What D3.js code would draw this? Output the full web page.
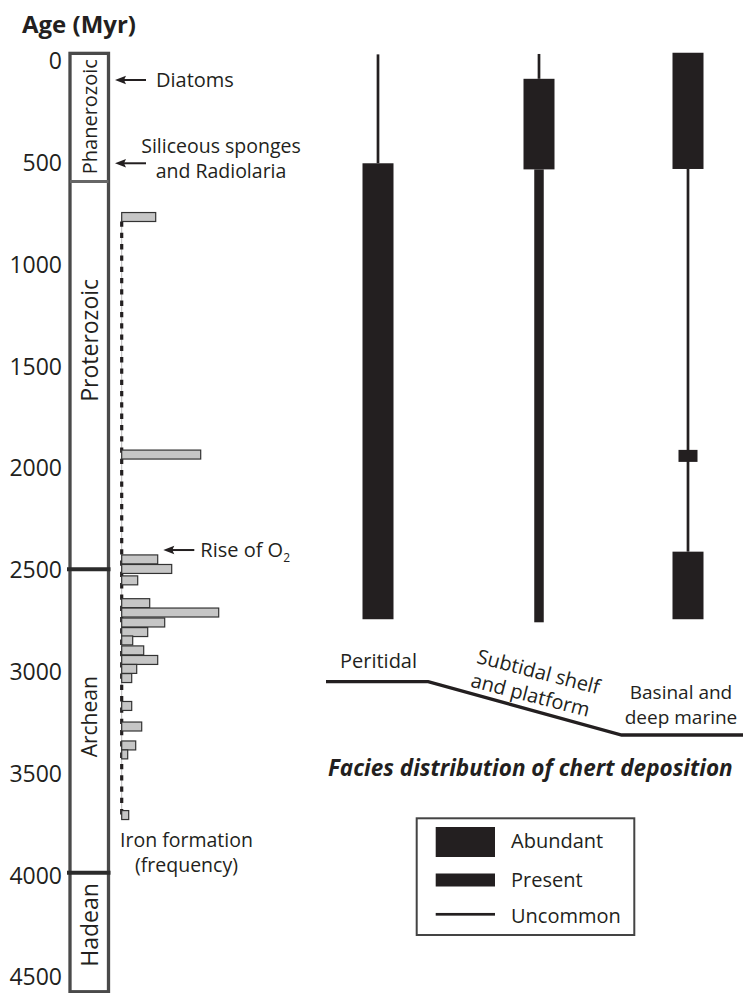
<!DOCTYPE html>
<html>
<head>
<meta charset="utf-8">
<script src="https://cdn.jsdelivr.net/npm/d3@7"></script>
<style>
  body { margin: 0; background: #fff; }
  text { font-family: "Open Sans", sans-serif; fill: #231f20; }
</style>
</head>
<body>
<div class="chart"></div>
<script>
(function() {

    /* data */
    var ageTicks = [0, 500, 1000, 1500, 2000, 2500, 3000, 3500, 4000, 4500];

    var eonNames = ["Phanerozoic", "Proterozoic", "Archean", "Hadean"];
    var eonTop = [-40, 590, 2495, 3985];
    var eonBottom = [590, 2495, 3985, 4570];
    var eonLabelAge = [271, 1370, 3219, 4242];

    // iron formation frequency (relative) per age bin
    var ironAge = [764, 1931, 2446, 2493, 2549, 2661, 2707, 2756, 2803, 2844, 2893, 2940, 2984, 3029, 3166, 3267, 3360, 3404, 3702];
    var ironFreq = [34, 79, 36, 50, 16, 28, 97, 43, 26, 11, 22, 36, 15, 10, 10, 20, 14, 6, 7];

    var eventNames = ["Diatoms", "Siliceous sponges\nand Radiolaria", "Rise of O"];
    var eventAge = [91, 500, 2400];

    var faciesNames = ["Peritidal", "Subtidal shelf\nand platform", "Basinal and\ndeep marine"];
    var segFacies = [0, 0, 1, 1, 1, 2, 2, 2, 2];
    var segLevel = ["Uncommon", "Abundant", "Uncommon", "Abundant", "Present", "Abundant", "Uncommon", "Present", "Abundant"];
    var segFrom = [-35, 500, -37, 85, 530, -43, 528, 1908, 2408];
    var segTo = [500, 2740, 85, 530, 2755, 528, 2408, 1967, 2740];

    var levels = ["Abundant", "Present", "Uncommon"];

    // shelf profile: fraction along the panel, relative depth
    var profFrac = [0, 0.245, 0.709, 1];
    var profDepth = [0, 0, 1, 1];

    var ink = "#231f20";

    var svg = d3.select(".chart").append("svg")
        .attr("width", 743)
        .attr("height", 993);

    var y = d3.scaleLinear()
        .domain([0, 4500])
        .range([61.5, 977.5]);

    /* age axis */
    svg.append("text")
        .attr("x", 22)
        .attr("y", 33)
        .style("font-weight", "bold")
        .style("font-size", "24px")
        .text("Age (Myr)");

    var yAxis = d3.axisLeft(y).tickValues(ageTicks).tickSize(0).tickPadding(0).tickFormat(d3.format("d"));
    var ax = svg.append("g")
        .attr("transform", "translate(62,0)")
        .call(yAxis);
    ax.select(".domain").remove();
    ax.selectAll("text")
        .attr("fill", ink)
        .style("font-family", "'Open Sans', sans-serif")
        .style("font-size", "23px");

    /* eon column */
    var eonX0 = 70, eonX1 = 108.5;
    svg.append("rect")
        .attr("x", eonX0)
        .attr("y", y(eonTop[0]))
        .attr("width", eonX1 - eonX0)
        .attr("height", y(eonBottom[3]) - y(eonTop[0]))
        .attr("fill", "none")
        .attr("stroke", "#4a4a4a")
        .attr("stroke-width", 3.3);

    svg.selectAll(".eon-line")
        .data(eonTop.slice(1))
        .enter().append("line")
        .attr("class", "eon-line")
        .attr("x1", function(d, i) { return i == 0 ? eonX0 : eonX0 - 3; })
        .attr("x2", function(d, i) { return i == 0 ? eonX1 : eonX1 + 2; })
        .attr("y1", function(d) { return y(d); })
        .attr("y2", function(d) { return y(d); })
        .attr("stroke", function(d, i) { return i == 0 ? "#666" : "#2b2b2b"; })
        .attr("stroke-width", function(d, i) { return i == 0 ? 3 : 4; });

    svg.selectAll(".eon-label")
        .data(eonNames)
        .enter().append("text")
        .attr("class", "eon-label")
        .attr("transform", function(d, i) { return "translate(" + 89.5 + "," + y(eonLabelAge[i]) + ") rotate(-90)"; })
        .attr("text-anchor", "middle")
        .attr("dy", "0.35em")
        .style("font-size", function(d, i) { return i == 0 ? "20px" : (i == 2 ? "21px" : "23px"); })
        .text(function(d) { return d; });

    /* iron formation histogram */
    var x = d3.scaleLinear().domain([0, 100]).range([121.7, 221.7]);
    var binHalf = 22;

    svg.append("line")
        .attr("x1", x(0)).attr("x2", x(0))
        .attr("y1", y(ironAge[0])).attr("y2", y(ironAge[ironAge.length - 1]))
        .attr("stroke", "#bbb")
        .attr("stroke-width", 1);
    svg.append("line")
        .attr("x1", x(0)).attr("x2", x(0))
        .attr("y1", y(ironAge[0] + binHalf)).attr("y2", y(ironAge[ironAge.length - 1]))
        .attr("stroke", ink)
        .attr("stroke-width", 3.2)
        .attr("stroke-dasharray", "5.3,6");

    svg.selectAll(".iron")
        .data(ironAge)
        .enter().append("rect")
        .attr("class", "iron")
        .attr("x", x(0))
        .attr("y", function(d) { return y(d - binHalf); })
        .attr("width", function(d, i) { return x(ironFreq[i]) - x(0); })
        .attr("height", function(d) { return y(d + binHalf) - y(d - binHalf); })
        .attr("fill", "#c6c6c6")
        .attr("stroke", "#333")
        .attr("stroke-width", 1.2);

    var ironLab = svg.append("text")
        .attr("x", 186.5)
        .attr("y", 847)
        .attr("text-anchor", "middle")
        .style("font-size", "19.5px");
    ironLab.append("tspan").text("Iron formation");
    ironLab.append("tspan").attr("x", 186.5).attr("dy", 25).text("(frequency)");

    /* event arrows */
    var arrowX = [115, 115, 163.3];
    var arrowLen = 31;
    var ev = svg.selectAll(".event")
        .data(eventNames)
        .enter().append("g")
        .attr("class", "event")
        .attr("transform", function(d, i) { return "translate(" + arrowX[i] + "," + y(eventAge[i]) + ")"; });

    ev.append("line")
        .attr("x1", 6).attr("x2", arrowLen)
        .attr("stroke", ink)
        .attr("stroke-width", 2);
    ev.append("path")
        .attr("d", "M0,0L11,-4.2L9,0L11,4.2Z")
        .attr("fill", ink);

    ev.each(function(d, i) {
        var g = d3.select(this);
        var lines = d.split("\n");
        if (lines.length == 1) {
            var t = g.append("text")
                .attr("x", arrowLen + 10)
                .attr("y", 7.3)
                .style("font-size", "20px")
                .text(d);
            if (d == "Rise of O") {
                t.attr("x", arrowLen + 6);
                t.append("tspan")
                    .attr("dy", 5)
                    .style("font-size", "12px")
                    .text("2");
            }
        } else {
            // two stacked lines, centred over the arrow
            lines.forEach(function(s, k) {
                g.append("text")
                    .attr("x", 106)
                    .attr("y", k == 0 ? -10.5 : 14.5)
                    .attr("text-anchor", "middle")
                    .style("font-size", "19.5px")
                    .text(s);
            });
        }
    });

    /* facies columns */
    var colX = d3.scaleOrdinal().domain([0, 1, 2]).range([378, 539, 688]);
    var levelWidth = { "Abundant": 31, "Present": 9.5, "Uncommon": 2.7 };
    var presentWidth = [9.5, 9.5, 19];
    var levelOrder = { "Uncommon": 0, "Present": 1, "Abundant": 2 };

    var segs = segFacies.map(function(f, i) {
        return { facies: f, level: segLevel[i], from: segFrom[i], to: segTo[i] };
    }).sort(function(a, b) { return levelOrder[a.level] - levelOrder[b.level]; });

    function segW(d) {
        return d.level == "Present" ? presentWidth[d.facies] : levelWidth[d.level];
    }

    svg.selectAll(".seg")
        .data(segs)
        .enter().append("rect")
        .attr("class", "seg")
        .attr("x", function(d) { return colX(d.facies) - segW(d) / 2; })
        .attr("y", function(d) { return y(d.from); })
        .attr("width", segW)
        .attr("height", function(d) { return y(d.to) - y(d.from); })
        .attr("fill", ink);

    /* shelf profile */
    var px = d3.scaleLinear().domain([0, 1]).range([326, 743]);
    var pz = d3.scaleLinear().domain([0, 1]).range([681.7, 735]);
    var profile = d3.line()
        .x(function(d, i) { return px(d); })
        .y(function(d, i) { return pz(profDepth[i]); });

    svg.append("path")
        .attr("d", profile(profFrac))
        .attr("fill", "none")
        .attr("stroke", ink)
        .attr("stroke-width", 3.3);

    svg.append("text")
        .attr("x", 378.5)
        .attr("y", 668)
        .attr("text-anchor", "middle")
        .style("font-size", "20px")
        .text(faciesNames[0]);

    var sub = svg.append("g")
        .attr("transform", "translate(538.5,671.7) rotate(14.5)");
    faciesNames[1].split("\n").forEach(function(s, i) {
        sub.append("text")
            .attr("x", i == 0 ? 0 : -2)
            .attr("y", i * 24.5)
            .attr("dy", "0.35em")
            .attr("text-anchor", "middle")
            .style("font-size", "20px")
            .text(s);
    });

    faciesNames[2].split("\n").forEach(function(s, i) {
        svg.append("text")
            .attr("x", 681)
            .attr("y", 699 + i * 24.5)
            .attr("text-anchor", "middle")
            .style("font-size", "19px")
            .text(s);
    });

    svg.append("text")
        .attr("x", 530.3)
        .attr("y", 776)
        .attr("text-anchor", "middle")
        .style("font-size", "22.5px")
        .style("font-weight", "bold")
        .style("font-style", "italic")
        .text("Facies distribution of chert deposition");

    /* legend */
    var legendH = [30, 13, 2.7];
    var legendY = [842, 880, 914.3];
    var legend = svg.append("g");
    legend.append("rect")
        .attr("x", 416.7)
        .attr("y", 818.3)
        .attr("width", 217.6)
        .attr("height", 116.7)
        .attr("fill", "none")
        .attr("stroke", "#444")
        .attr("stroke-width", 2);

    var item = legend.selectAll(".legend")
        .data(levels)
        .enter().append("g")
        .attr("class", "legend")
        .attr("transform", function(d, i) { return "translate(435.7," + legendY[i] + ")"; });
    item.append("rect")
        .attr("y", function(d, i) { return -legendH[i] / 2; })
        .attr("width", 59.3)
        .attr("height", function(d, i) { return legendH[i]; })
        .attr("fill", ink);
    item.append("text")
        .attr("x", 75.3)
        .attr("y", function(d, i) { return [6.3, 7.3, 9][i]; })
        .style("font-size", "20px")
        .text(function(d) { return d; });

})();
</script>
</body>
</html>
